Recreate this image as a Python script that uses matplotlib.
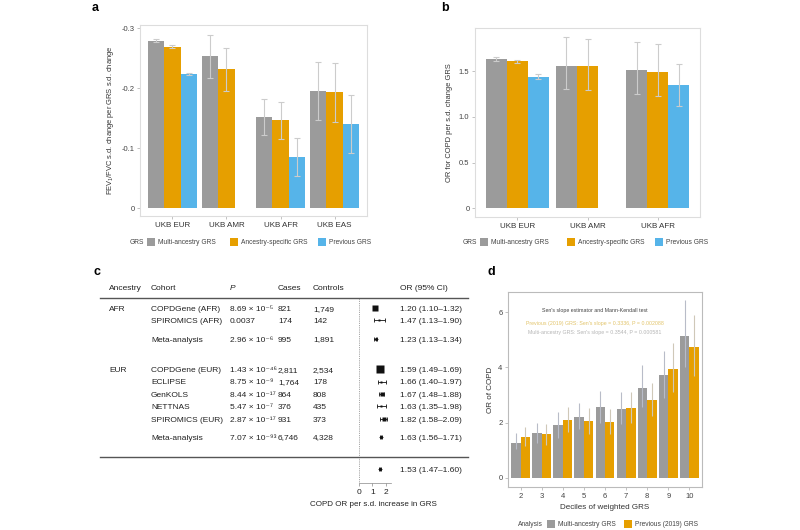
import matplotlib
matplotlib.use('Agg')
import matplotlib.pyplot as plt
from matplotlib.patches import Rectangle
import numpy as np

plt.rcParams['font.family'] = ['Liberation Sans', 'DejaVu Sans']
plt.rcParams['mathtext.fontset'] = 'custom'
plt.rcParams['mathtext.rm'] = 'Liberation Sans'
plt.rcParams['mathtext.it'] = 'Liberation Sans:italic'

# ---------------- data ----------------
# panel a
a_groups = ['UKB EUR', 'UKB AMR', 'UKB AFR', 'UKB EAS']
a_multi = [-0.279, -0.253, -0.152, -0.195]
a_multi_err = [0.002, 0.036, 0.030, 0.049]
a_spec = [-0.269, -0.231, -0.146, -0.193]
a_spec_err = [0.002, 0.036, 0.031, 0.049]
a_prev = [-0.223, None, -0.085, -0.140]
a_prev_err = [0.002, None, 0.031, 0.049]

# panel b
b_groups = ['UKB EUR', 'UKB AMR', 'UKB AFR']
b_multi = [1.631, 1.558, 1.511]
b_multi_lo = [1.605, 1.300, 1.250]
b_multi_hi = [1.656, 1.870, 1.820]
b_spec = [1.605, 1.550, 1.492]
b_spec_lo = [1.590, 1.296, 1.223]
b_spec_hi = [1.620, 1.855, 1.800]
b_prev = [1.435, None, 1.343]
b_prev_lo = [1.413, None, 1.115]
b_prev_hi = [1.463, None, 1.576]

# panel c
c_ancestry = ['AFR', '', '', 'EUR', '', '', '', '', '', '']
c_cohort = ['COPDGene (AFR)', 'SPIROMICS (AFR)', 'Meta-analysis',
            'COPDGene (EUR)', 'ECLIPSE', 'GenKOLS', 'NETTNAS',
            'SPIROMICS (EUR)', 'Meta-analysis', '']
c_p_mant = ['8.69', '0.0037', '2.96', '1.43', '8.75', '8.44', '5.47', '2.87', '7.07', '']
c_p_exp = ['-5', '', '-6', '-46', '-9', '-17', '-7', '-17', '-93', '']
c_cases = ['821', '174', '995', '2,811', '1,764', '864', '376', '931', '6,746', '']
c_controls = ['1,749', '142', '1,891', '2,534', '178', '808', '435', '373', '4,328', '']
c_or = [1.20, 1.47, 1.23, 1.59, 1.66, 1.67, 1.63, 1.82, 1.63, 1.53]
c_lo = [1.10, 1.13, 1.13, 1.49, 1.40, 1.48, 1.35, 1.58, 1.56, 1.47]
c_hi = [1.32, 1.90, 1.34, 1.69, 1.97, 1.88, 1.98, 2.09, 1.71, 1.60]
c_meta = [False, False, True, False, False, False, False, False, True, True]
c_weight = [3.8, 1.4, 2.2, 5.6, 2.0, 3.0, 1.8, 2.6, 2.2, 2.2]

# panel d
d_deciles = [2, 3, 4, 5, 6, 7, 8, 9, 10]
d_multi = [1.27, 1.62, 1.90, 2.19, 2.55, 2.48, 3.27, 3.71, 5.14]
d_multi_lo = [1.05, 1.25, 1.45, 1.75, 2.00, 1.95, 2.55, 2.90, 4.00]
d_multi_hi = [1.63, 2.00, 2.38, 2.70, 3.14, 3.10, 4.09, 4.60, 6.45]
d_prev = [1.46, 1.57, 2.09, 2.04, 2.03, 2.52, 2.81, 3.95, 4.73]
d_prev_lo = [1.15, 1.20, 1.65, 1.60, 1.60, 2.00, 2.25, 3.10, 3.70]
d_prev_hi = [1.85, 1.95, 2.58, 2.53, 2.50, 3.11, 3.45, 4.90, 5.90]

# ---------------- layout helpers ----------------
W, H = 800, 530
fig = plt.figure(figsize=(W / 100, H / 100), dpi=100)
fig.patch.set_facecolor('white')


def fx(x):
    return x / W


def fy(y):
    return 1 - y / H


def add_ax(l, t, r, b):
    return fig.add_axes([l / W, 1 - b / H, (r - l) / W, (b - t) / H])


GRAY = '#9b9b9b'
ORANGE = '#e69f00'
BLUE = '#56b4e9'
ECOL = '#cccccc'
FRAME = '#dddddd'
TXT = '#444444'

SUP = str.maketrans('-0123456789', '\u207b\u2070\u00b9\u00b2\u00b3\u2074\u2075\u2076\u2077\u2078\u2079')


def style_ax(ax, frame=FRAME):
    for s in ax.spines.values():
        s.set_color(frame)
        s.set_linewidth(0.8)
    ax.tick_params(length=2, width=0.5, color='#aaaaaa', labelsize=5.5,
                   labelcolor=TXT, pad=2)


def legend_row(y, title, title_right, items):
    fig.text(fx(title_right), fy(y), title, ha='right', va='center',
             size=4.8, color=TXT)
    for xs, col, lab in items:
        fig.patches.append(Rectangle((fx(xs), fy(y + 4)), 8 / W, 8 / H,
                                     transform=fig.transFigure,
                                     facecolor=col, edgecolor='none', figure=fig))
        fig.text(fx(xs + 11), fy(y), lab, ha='left', va='center',
                 size=4.8, color=TXT)


def grouped(ax, series, width=0.3):
    for k, (vals, errs, col) in enumerate(series):
        off = (k - 1) * width
        for i, (v, e) in enumerate(zip(vals, errs)):
            if v is None:
                continue
            x = i + 1 + off
            ax.bar(x, v, width=width, color=col, edgecolor='none', zorder=2)
            ax.errorbar(x, v, yerr=[[e[0]], [e[1]]], fmt='none', ecolor=ECOL,
                        elinewidth=0.8, capsize=2.2, capthick=0.8, zorder=3)


# ---------------- panel a ----------------
axa = add_ax(140, 25, 367, 216)
style_ax(axa)
sa = [
    (a_multi, [(e, e) for e in a_multi_err], GRAY),
    (a_spec, [(e, e) for e in a_spec_err], ORANGE),
    (a_prev, [(e, e) if e is not None else None for e in a_prev_err], BLUE),
]
grouped(axa, sa)
axa.set_xlim(0.4, 4.6)
axa.set_ylim(0.0133, -0.305)
axa.set_yticks([0, -0.1, -0.2, -0.3])
axa.set_yticklabels(['0', '-0.1', '-0.2', '-0.3'])
axa.set_xticks([1, 2, 3, 4])
axa.set_xticklabels(a_groups, size=5.8, color='#333333')
axa.set_ylabel('FEV$_1$/FVC s.d. change per GRS s.d. change', size=5.4,
               color='#333333', labelpad=4)
fig.text(fx(92), fy(8), 'a', size=9, weight='bold', ha='left', va='center')
legend_row(242, 'GRS', 144, [(147, GRAY, 'Multi-ancestry GRS'),
                             (230, ORANGE, 'Ancestry-specific GRS'),
                             (318, BLUE, 'Previous GRS')])

# ---------------- panel b ----------------
axb = add_ax(475, 28, 700, 217)
style_ax(axb)
sb = [
    (b_multi, [(v - l, h - v) for v, l, h in zip(b_multi, b_multi_lo, b_multi_hi)], GRAY),
    (b_spec, [(v - l, h - v) for v, l, h in zip(b_spec, b_spec_lo, b_spec_hi)], ORANGE),
    (b_prev, [(v - l, h - v) if v is not None else None
              for v, l, h in zip(b_prev, b_prev_lo, b_prev_hi)], BLUE),
]
grouped(axb, sb)
axb.set_xlim(0.4, 3.6)
axb.set_ylim(-0.094, 1.97)
axb.set_yticks([0, 0.5, 1.0, 1.5])
axb.set_yticklabels(['0', '0.5', '1.0', '1.5'])
axb.set_xticks([1, 2, 3])
axb.set_xticklabels(b_groups, size=5.8, color='#333333')
axb.set_ylabel('OR for COPD per s.d. change GRS', size=5.4, color='#333333',
               labelpad=4)
fig.text(fx(441), fy(8), 'b', size=9, weight='bold', ha='left', va='center')
legend_row(242, 'GRS', 477, [(480, GRAY, 'Multi-ancestry GRS'),
                             (567, ORANGE, 'Ancestry-specific GRS'),
                             (655, BLUE, 'Previous GRS')])

# ---------------- panel c ----------------
fig.text(fx(93), fy(272), 'c', size=9, weight='bold', ha='left', va='center')
row_y = [308, 320, 338.5, 369, 381.5, 394, 406, 418.5, 436.5, 469]
head_y = 287
col_x = {'anc': 109, 'coh': 151, 'p': 230, 'cases': 278, 'ctrl': 313, 'or': 400}
TS = 6.0
TC = '#222222'
BL = 3.0  # baseline offset (px) below the row centre


def ctext(x, y, s, **kw):
    fig.text(fx(x), fy(y + BL), s, size=TS, color=TC, ha='left',
             va='baseline', **kw)


for key, lab in [('anc', 'Ancestry'), ('coh', 'Cohort'), ('cases', 'Cases'),
                 ('ctrl', 'Controls'), ('or', 'OR (95% CI)')]:
    ctext(col_x[key], head_y, lab)
ctext(col_x['p'], head_y, 'P', style='italic')
for i, y in enumerate(row_y):
    if c_ancestry[i]:
        ctext(col_x['anc'], y, c_ancestry[i])
    if c_cohort[i]:
        ctext(col_x['coh'], y, c_cohort[i])
    if c_p_mant[i]:
        if c_p_exp[i]:
            s = c_p_mant[i] + ' \u00d7 10' + c_p_exp[i].translate(SUP)
        else:
            s = c_p_mant[i]
        ctext(col_x['p'], y, s)
    if c_cases[i]:
        ctext(col_x['cases'], y, c_cases[i])
    if c_controls[i]:
        ctext(col_x['ctrl'], y, c_controls[i])
    ctext(col_x['or'], y, f'{c_or[i]:.2f} ({c_lo[i]:.2f}\u2013{c_hi[i]:.2f})')

# horizontal rules
for yy in (298, 457):
    fig.add_artist(plt.Line2D([fx(100), fx(468)], [fy(yy), fy(yy)],
                              transform=fig.transFigure, color='#555555', lw=1.0))

axc = add_ax(352, 298, 395, 483)
axc.set_xlim(-0.52, 2.67)
axc.set_ylim(483, 298)
axc.set_facecolor('none')
for s in ['top', 'right', 'left']:
    axc.spines[s].set_visible(False)
axc.spines['bottom'].set_bounds(0, 2.4)
axc.spines['bottom'].set_color('#888888')
axc.spines['bottom'].set_linewidth(0.5)
axc.set_yticks([])
axc.set_xticks([0, 1, 2])
axc.set_xticklabels(['0', '1', '2'])
axc.tick_params(axis='x', length=2, width=0.5, color='#888888', labelsize=6,
                labelcolor=TC, pad=2)
axc.axvline(0, color='#888888', lw=0.6, ls=(0, (1, 1.2)))
for i, y in enumerate(row_y):
    axc.errorbar(c_or[i], y, xerr=[[c_or[i] - c_lo[i]], [c_hi[i] - c_or[i]]],
                 fmt='none', ecolor='#111111', elinewidth=0.6, capsize=1.2,
                 capthick=0.6, zorder=2)
    axc.plot(c_or[i], y, marker='D' if c_meta[i] else 's', ms=c_weight[i],
             color='#111111', mec='none', zorder=3)
axc.set_xlabel('COPD OR per s.d. increase in GRS', size=5.8, color=TC, labelpad=4)

# ---------------- panel d ----------------
fig.text(fx(488), fy(272), 'd', size=9, weight='bold', ha='left', va='center')
axd = add_ax(508, 292, 702, 487)
style_ax(axd, frame='#bbbbbb')
dx = np.array(d_deciles, dtype=float)
bw = 0.45
axd.bar(dx - bw / 2, d_multi, width=bw, color=GRAY, edgecolor='none', zorder=2)
axd.bar(dx + bw / 2, d_prev, width=bw, color=ORANGE, edgecolor='none', zorder=2)
axd.vlines(dx - bw / 2, d_multi_lo, d_multi_hi, color='#b8bcc8', lw=0.8, zorder=3)
axd.vlines(dx + bw / 2, d_prev_lo, d_prev_hi, color='#cfc8b8', lw=0.8, zorder=3)
axd.set_xlim(1.4, 10.6)
axd.set_ylim(-0.34, 6.74)
axd.set_xticks(d_deciles)
axd.set_yticks([0, 2, 4, 6])
axd.set_yticklabels(['0', '2', '4', '6'])
axd.set_xlabel('Deciles of weighted GRS', size=5.8, color='#333333', labelpad=3)
axd.set_ylabel('OR of COPD', size=5.8, color='#333333', labelpad=3)
axd.text(0.448, 0.903, "Sen's slope estimator and Mann-Kendall test",
         transform=axd.transAxes, ha='center', va='center', size=3.8, color='#444444')
axd.text(0.448, 0.841, "Previous (2019) GRS: Sen's slope = 0.3336, P = 0.002088",
         transform=axd.transAxes, ha='center', va='center', size=3.8, color='#e2c46a')
axd.text(0.448, 0.790, "Multi-ancestry GRS: Sen's slope = 0.3544, P = 0.000581",
         transform=axd.transAxes, ha='center', va='center', size=3.8, color='#b5b5b5')
legend_row(524, 'Analysis', 543, [(547, GRAY, 'Multi-ancestry GRS'),
                                  (624, ORANGE, 'Previous (2019) GRS')])

fig.savefig('out.png', dpi=100, facecolor='white')
